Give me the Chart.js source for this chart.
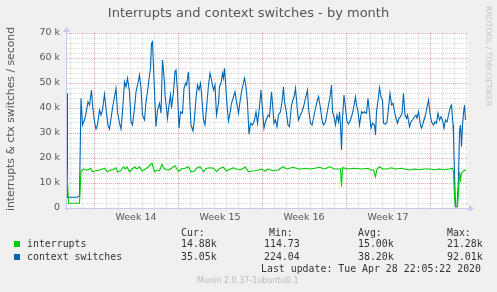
<!DOCTYPE html>
<html><head><meta charset="utf-8">
<script src="https://cdn.jsdelivr.net/npm/chart.js@4"></script>
<style>
html,body{margin:0;padding:0;background:#f0f0f0;}
#wrap{position:relative;width:497px;height:292px;overflow:hidden;background:#f0f0f0;font-family:"DejaVu Sans",sans-serif;}
#c{position:absolute;left:0;top:0;}
.t{position:absolute;white-space:pre;line-height:12px;}
.mono{font-family:"DejaVu Sans Mono",monospace;font-size:9.9px;color:#333;}
.sq{position:absolute;width:6px;height:6px;}
</style></head><body>
<div id="wrap">
<canvas id="c" width="497" height="292"></canvas>
<div class="t" style="left:0;width:497px;top:5px;line-height:16px;text-align:center;font-size:13px;color:#555;">Interrupts and context switches - by month</div>
<div class="t" style="left:-89px;width:200px;top:113px;line-height:12px;text-align:center;font-size:10.8px;color:#555;transform:rotate(-90deg);">interrupts &amp; ctx switches / second</div>
<div class="t" style="left:438px;width:100px;top:50px;text-align:center;font-size:7.8px;color:#c4c4c4;transform:rotate(90deg);">RRDTOOL / TOBI OETIKER</div>

<div class="t mono" style="left:181px;top:227px;">Cur:</div>
<div class="t mono" style="left:269px;top:227px;">Min:</div>
<div class="t mono" style="left:358px;top:227px;">Avg:</div>
<div class="t mono" style="left:447px;top:227px;">Max:</div>

<div class="sq" style="left:14px;top:241px;background:#00cc00;"></div>
<div class="t mono" style="left:27px;top:238px;">interrupts</div>
<div class="t mono" style="left:181px;top:238px;">14.88k</div>
<div class="t mono" style="left:264px;top:238px;">114.73</div>
<div class="t mono" style="left:358px;top:238px;">15.00k</div>
<div class="t mono" style="left:447px;top:238px;">21.28k</div>

<div class="sq" style="left:14px;top:254px;background:#0066b3;"></div>
<div class="t mono" style="left:27px;top:251px;">context switches</div>
<div class="t mono" style="left:181px;top:251px;">35.05k</div>
<div class="t mono" style="left:264px;top:251px;">224.04</div>
<div class="t mono" style="left:358px;top:251px;">38.20k</div>
<div class="t mono" style="left:447px;top:251px;">92.01k</div>

<div class="t mono" style="left:261px;top:263px;">Last update: Tue Apr 28 22:05:22 2020</div>
<div class="t" style="left:197px;top:275px;font-size:8px;color:#bbb;">Munin 2.0.37-1ubuntu0.1</div>
</div>
<script>
// hours relative to the start of Week 14 (Mon 00:00)
const weekLabels = ['Week 14', 'Week 15', 'Week 16', 'Week 17'];

const ctxHours = [-54,-53,-34,-29,-26,-23,-19,-16,-12,-9,-5,-3,1,4,7,11,14,17,21,25,28,31,35,38,41,44,47,51,54,57,61,64,67,71,74,77,81,84,88,91,94,97,101,104,107,111,113,115,117,121,124,127,131,134,137,141,
142,145,147,150,153,155,159,162,164,167,170,173,177,180,183,185,189,191,194,198,201,204,207,210,213,215,219,222,225,229,232,235,239,242,245,249,251,254,257,259,261,263,266,269,272,275,279,282,285,289,292,295,298,301,304,307,310,313,317,321,324,327,331,334,337,340,343,
348,351,355,357,360,363,366,369,373,376,379,381,385,388,391,395,398,401,403,407,409,413,416,420,423,427,429,433,436,439,443,446,449,453,456,459,463,466,469,472,475,477,480,483,486,489,491,493,495,497,500,503,506,509,513,516,519,523,525,528,531,535,538,541,545,548,551,
554,557,561,563,565,569,571,574,577,579,583,586,589,592,595,598,601,604,607,610,613,616,619,622,625,627,631,634,637,641,644,646,649,653,655,659,662,665,669,672,675,679,682,685,688,691,694,697,700,703,706,709,713,715,718,719,721,723,726,729,731,733,735,737,739,741,743];
const ctxValues = [45.9,4.3,4.3,4.8,43.9,33.2,35.2,37.9,42.5,41.2,47.2,41.2,34.5,31.6,33.2,39.2,37.2,39.2,45.5,37.9,33.2,31.6,37.2,41.2,44.5,47.9,38.5,33.9,31.6,38.5,50.5,48.5,51.9,46.5,34.5,33.2,39.9,46.5,49.9,53.2,47.9,37.2,35.2,42.5,46.5,53.2,55.9,65.9,66.5,46.5,32.5,39.2,41.9,37.9,59.2,50.5,
45.2,39.9,35.9,41.2,45.2,39.9,46.5,54.5,55.2,46.5,31.9,38.5,37.9,47.9,49.9,49.2,54.5,45.2,33.2,30.8,35.9,43.9,49.2,47.2,49.9,45.9,35.2,33.2,39.9,49.2,53.9,51.2,47.2,49.2,37.2,41.9,48.5,49.9,53.9,51.9,55.9,50.5,41.2,34.8,37.9,41.9,44.5,46.5,42.5,37.9,42.5,46.5,49.2,51.9,48.5,41.9,29.5,33.9,33.2,35.2,38.5,33.9,40.5,47.2,39.2,31.9,34.5,
37.2,36.5,46.5,41.9,33.9,35.2,32.5,37.2,38.5,42.5,48.5,42.5,37.9,33.2,32.5,41.2,43.2,45.2,47.9,38.5,35.2,37.2,38.5,41.2,43.9,47.2,39.9,33.9,33.2,35.9,39.9,42.5,44.5,39.9,35.2,33.2,34.5,37.9,41.2,44.5,49.2,38.5,36.5,33.2,37.2,34.5,38.5,33.2,23.2,35.9,45.2,39.9,34.5,33.6,35.2,37.2,39.9,44.5,41.2,38.5,33.2,38.5,37.9,38.5,37.9,43.9,37.9,
31.9,33.9,33.2,29.2,38.5,44.5,48.1,44.5,43.2,33.9,33.5,34.5,39.9,45.9,41.2,41.9,38.5,35.9,33.9,35.9,36.5,37.9,45.9,37.2,35.9,37.2,32.5,34.5,35.2,36.5,37.2,35.9,38.5,33.2,31.9,34.5,36.5,39.2,43.2,37.9,34.5,33.2,34.5,33.9,37.9,35.2,36.5,35.2,31.9,35.2,34.5,37.2,40.5,41.2,33.2,29.2,13.2,0.5,0.5,11.9,30.5,33.2,24.5,33.2,37.9,41.2,35.2];

const intHours = [-54,-51,-29,-26,-21,-14,-7,-3,3,9,16,21,26,33,39,44,47,53,59,63,66,71,76,81,86,91,96,103,109,116,121,126,131,136,139,
142,149,155,162,169,175,182,189,194,201,205,212,219,225,232,239,245,252,259,265,272,279,285,292,299,302,309,315,322,329,335,342,
348,358,368,378,385,391,398,405,411,421,431,441,451,461,471,481,491,493,495,497,508,521,535,548,
554,559,563,566,571,577,587,594,604,614,621,631,641,651,661,671,681,691,701,711,717,719,721,723,727,729,731,733,735,738,741,743];
const intValues = [14.5,1.9,1.9,14.9,15.6,15.1,15.9,14.5,14.9,15.1,15.5,15.9,14.5,15.1,15.5,16.1,14.5,14.9,16.5,15.6,16.5,14.5,15.5,16.4,15.6,16.5,14.8,15.6,16.5,18.0,14.5,15.2,14.9,17.5,16.1,
15.6,15.1,15.9,16.9,14.5,15.6,15.9,16.5,14.5,14.8,15.9,16.5,14.5,15.9,16.1,15.9,14.5,15.9,16.3,14.8,15.5,16.1,15.6,15.2,15.9,16.5,14.5,14.8,14.9,15.2,15.6,14.8,
15.6,14.9,15.2,16.5,15.6,15.9,16.3,15.9,15.5,15.9,15.6,15.9,16.3,15.6,16.5,15.6,15.6,15.6,8.5,16.1,15.6,15.9,15.6,15.9,
15.1,15.2,12.5,15.6,16.5,15.6,15.6,16.1,15.6,15.9,15.6,15.2,15.6,15.3,15.6,15.6,15.3,15.6,15.3,15.6,15.9,14.5,3.9,0.5,0.5,6.5,14.5,11.2,13.9,14.5,15.2,14.8];

const toPts = (hs, vs) => hs.map((h, i) => ({x: h, y: vs[i]}));

const RED = '#f2a8a8';
const GRAY = '#dadada';
const AXIS = '#c8c8f0';
const TICKFONT = {family: 'DejaVu Sans', size: 9.5};

const plotBg = {
  id: 'plotBg',
  beforeDraw(chart) {
    const a = chart.chartArea, c = chart.ctx;
    c.save(); c.fillStyle = '#ffffff';
    c.fillRect(a.left, a.top, a.right - a.left, a.bottom - a.top);
    c.restore();
  }
};
const axes = {
  id: 'axes',
  afterDraw(chart) {
    const a = chart.chartArea, c = chart.ctx;
    c.save();
    c.strokeStyle = AXIS; c.fillStyle = AXIS; c.lineWidth = 1;
    const yb = Math.round(a.bottom) + 0.5, xl = Math.round(a.left) - 0.5;
    c.beginPath(); c.moveTo(a.left - 2, yb); c.lineTo(a.right + 2, yb); c.stroke();
    c.beginPath(); c.moveTo(a.right + 1, yb - 3.5); c.lineTo(a.right + 6, yb); c.lineTo(a.right + 1, yb + 3.5); c.closePath(); c.fill();
    c.beginPath(); c.moveTo(xl, a.bottom + 3); c.lineTo(xl, a.top - 3); c.stroke();
    c.beginPath(); c.moveTo(xl - 3.5, a.top - 1); c.lineTo(xl, a.top - 6); c.lineTo(xl + 3.5, a.top - 1); c.closePath(); c.fill();
    c.restore();
  }
};

new Chart(document.getElementById('c'), {
  type: 'line',
  data: {
    datasets: [
      {label: 'interrupts', data: toPts(intHours, intValues), borderColor: '#00cc00', borderWidth: 1.1, pointRadius: 0, tension: 0, fill: false},
      {label: 'context switches', data: toPts(ctxHours, ctxValues), borderColor: '#0066b3', borderWidth: 1.1, pointRadius: 0, tension: 0, fill: false}
    ]
  },
  options: {
    responsive: false, animation: false,
    layout: {padding: {left: 0, top: 33, right: 29, bottom: 64}},
    plugins: {legend: {display: false}, title: {display: false}, tooltip: {enabled: false}},
    scales: {
      x: {
        type: 'linear', min: -54, max: 748,
        afterBuildTicks: s => { const t = []; for (let v = -48; v <= 744; v += 12) t.push({value: v}); s.ticks = t; },
        afterFit: s => { s.height = 20; },
        grid: {
          color: ctx => { const v = ctx.tick.value; if (v % 168 === 0) return RED; if (v % 24 === 0) return GRAY; return 'rgba(0,0,0,0)'; },
          lineWidth: 1, drawTicks: true, tickLength: 2
        },
        border: {display: false, dash: [1, 1]},
        ticks: {
          autoSkip: false, maxRotation: 0, padding: 2, font: TICKFONT, color: '#555',
          callback: v => ((v - 84) % 168 === 0 && v >= 84) ? weekLabels[(v - 84) / 168] : ''
        }
      },
      y: {
        min: 0, max: 70,
        afterBuildTicks: s => { const t = []; for (let v = 0; v <= 70; v += 2) t.push({value: v}); s.ticks = t; },
        afterFit: s => { s.width = 67; },
        grid: {
          color: ctx => { const v = ctx.tick.value; if (v === 0) return 'rgba(0,0,0,0)'; if (v % 10 === 0) return RED; return GRAY; },
          lineWidth: 1, drawTicks: false
        },
        border: {display: false, dash: [1, 1]},
        ticks: {
          autoSkip: false, padding: 7, font: TICKFONT, color: '#555',
          callback: v => v % 10 === 0 ? (v === 0 ? '0' : v + ' k') : ''
        }
      }
    }
  },
  plugins: [plotBg, axes]
});
</script>
</body></html>
